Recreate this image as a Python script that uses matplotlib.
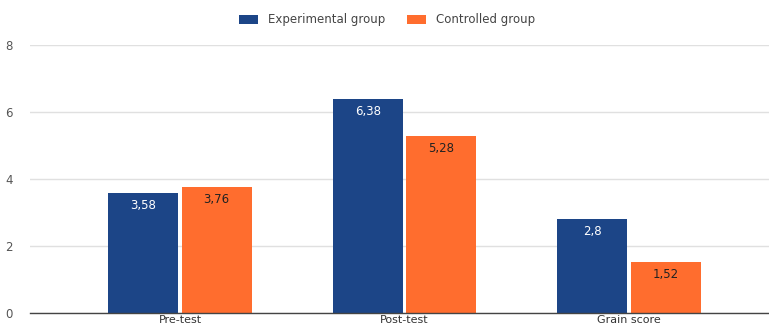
import matplotlib
matplotlib.use("Agg")
import matplotlib.pyplot as plt
import numpy as np

categories = ["Pre-test", "Post-test", "Grain score"]
experimental = [3.58, 6.38, 2.8]
controlled = [3.76, 5.28, 1.52]
exp_labels = ["3,58", "6,38", "2,8"]
ctl_labels = ["3,76", "5,28", "1,52"]
yticks = [0, 2, 4, 6, 8]

plt.rcParams['font.family'] = ['DejaVu Sans']
FS = 8.5

fig = plt.figure(figsize=(7.69, 3.31), dpi=100)
ax = fig.add_axes([30/769, 18/331, 1 - 30/769, (313-45)/331])

x = np.arange(len(categories))
w = 0.312
off = 0.163
blue = "#1c4587"
orange = "#ff6d2e"
b1 = ax.bar(x - off, experimental, w, color=blue, label="Experimental group", zorder=3)
b2 = ax.bar(x + off, controlled, w, color=orange, label="Controlled group", zorder=3)

for xi, v, t in zip(x, experimental, exp_labels):
    ax.text(xi - off, v - 0.36, t, ha="center", va="center", color="white", fontsize=FS, zorder=4)
for xi, v, t in zip(x, controlled, ctl_labels):
    ax.text(xi + off, v - 0.36, t, ha="center", va="center", color="#222222", fontsize=FS, zorder=4)

ax.set_xlim((30-180)/224.5, (769-180)/224.5)
ax.set_ylim(0, 8)
ax.set_yticks(yticks)
ax.set_yticklabels([str(t) for t in yticks], fontsize=FS, color="#555555")
ax.set_xticks(x)
ax.set_xticklabels(categories, fontsize=8, color="#333333")
ax.tick_params(axis="both", length=0)
ax.tick_params(axis="x", pad=1.5)
ax.tick_params(axis="y", pad=18)
for lab in ax.get_yticklabels():
    lab.set_horizontalalignment("left")
ax.grid(axis="y", color="#e0e0e0", linewidth=1, zorder=0)
for s in ["top", "right", "left"]:
    ax.spines[s].set_visible(False)
ax.spines["bottom"].set_color("#444444")
ax.spines["bottom"].set_linewidth(1)
ax.spines["bottom"].set_zorder(5)

fig.legend(handles=[b1, b2], loc="center", bbox_to_anchor=(387/769, 1 - 20/331), ncol=2,
           frameon=False, fontsize=FS, handlelength=1.6, handleheight=0.85,
           columnspacing=1.9, handletextpad=0.8, labelcolor="#444444")

fig.savefig("out.png", dpi=100)
